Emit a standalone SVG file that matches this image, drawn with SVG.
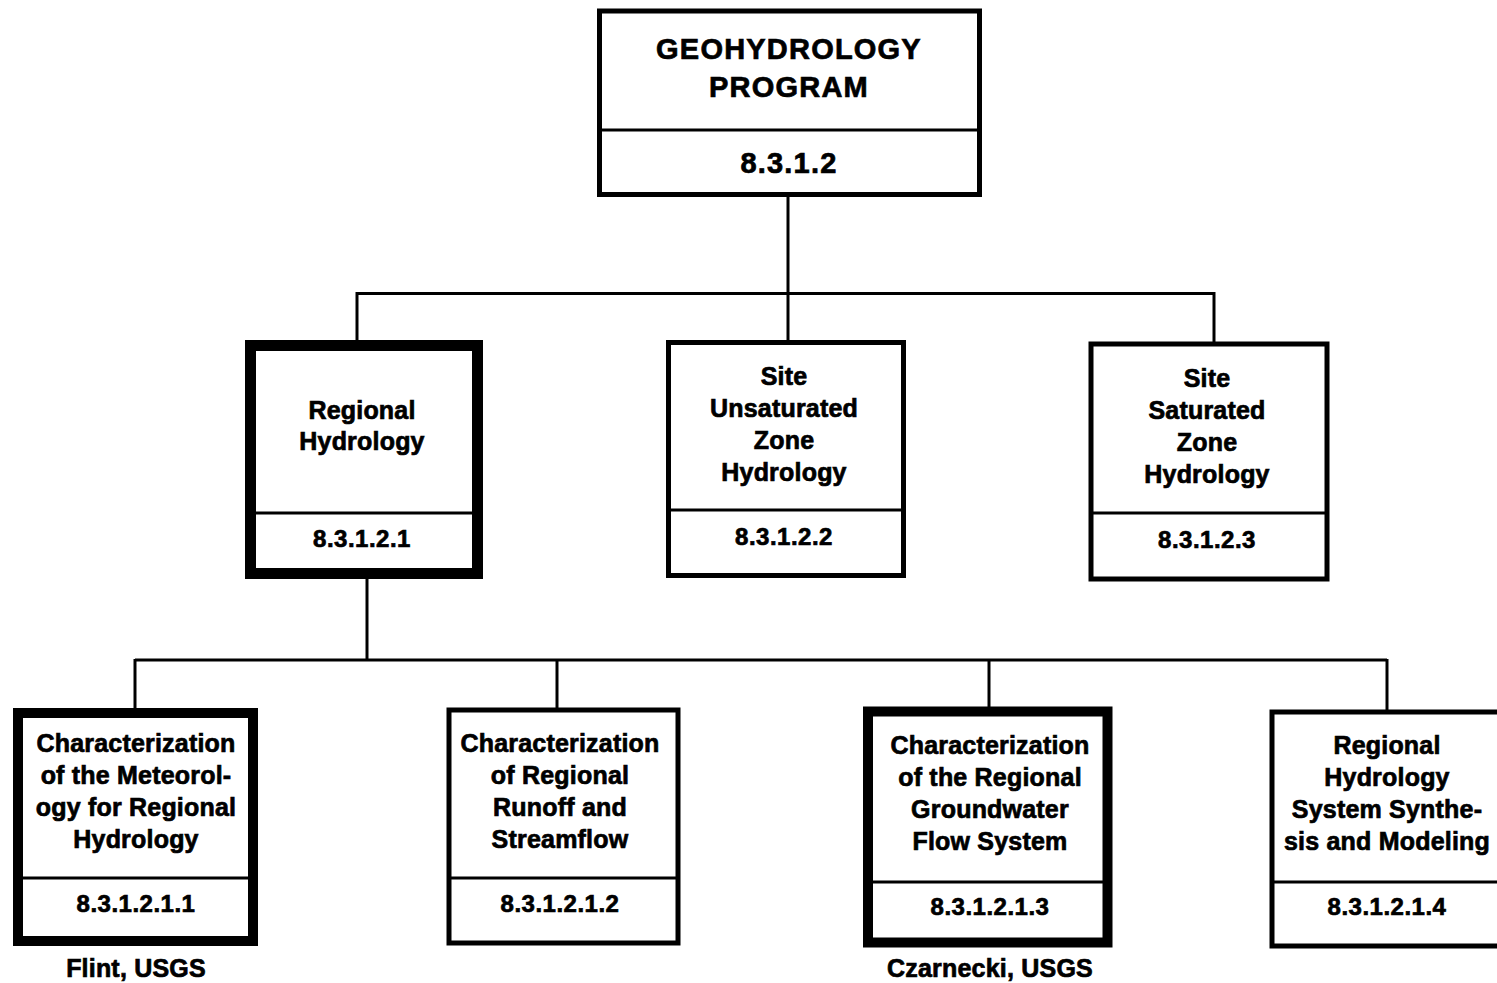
<svg xmlns="http://www.w3.org/2000/svg" width="1497" height="983" viewBox="0 0 1497 983">
<style>
.box{fill:#fff;stroke:#000;stroke-width:5}
.thick{fill:#fff;stroke:#000;stroke-width:11}
.div{stroke:#000;stroke-width:3}
.con{stroke:#000;stroke-width:3;fill:none}
text{font-family:"Liberation Sans",Arial,Helvetica,sans-serif;font-weight:bold;fill:#000;stroke:#000;stroke-width:0.7;text-anchor:middle}
.t{font-size:25px;letter-spacing:0.2px}
.c{font-size:24px;letter-spacing:0.5px}
.top{font-size:29px;letter-spacing:1.2px}
</style>
<rect width="1497" height="983" fill="#fff"/>
<g id="connectors">
<line class="con" x1="788" y1="195" x2="788" y2="341"/>
<line class="con" x1="357" y1="293.5" x2="1214" y2="293.5"/>
<line class="con" x1="357" y1="292" x2="357" y2="341"/>
<line class="con" x1="1214" y1="292" x2="1214" y2="343"/>
<line class="con" x1="367" y1="578" x2="367" y2="661"/>
<line class="con" x1="135" y1="660" x2="1387" y2="660"/>
<line class="con" x1="135" y1="659" x2="135" y2="709"/>
<line class="con" x1="557" y1="659" x2="557" y2="709"/>
<line class="con" x1="989" y1="659" x2="989" y2="707"/>
<line class="con" x1="1387" y1="659" x2="1387" y2="711"/>
</g>
<g id="n-program">
<rect class="box" x="599.5" y="11" width="380" height="183.5"/>
<line class="div" x1="599.5" y1="130" x2="979.5" y2="130"/>
<text class="top" x="789" y="59">GEOHYDROLOGY</text>
<text class="top" x="789" y="97">PROGRAM</text>
<text class="top" x="789" y="173">8.3.1.2</text>
</g>
<g id="n-regional">
<rect class="thick" x="250.5" y="345.5" width="227" height="228"/>
<line class="div" x1="250.5" y1="513" x2="477.5" y2="513"/>
<text class="t" x="362" y="419">Regional</text>
<text class="t" x="362" y="450">Hydrology</text>
<text class="c" x="362" y="547">8.3.1.2.1</text>
</g>
<g id="n-unsat">
<rect class="box" x="668.5" y="342.5" width="235" height="233"/>
<line class="div" x1="668.5" y1="510" x2="903.5" y2="510"/>
<text class="t" x="784" y="385">Site</text>
<text class="t" x="784" y="417">Unsaturated</text>
<text class="t" x="784" y="449">Zone</text>
<text class="t" x="784" y="481">Hydrology</text>
<text class="c" x="784" y="545">8.3.1.2.2</text>
</g>
<g id="n-sat">
<rect class="box" x="1091" y="344" width="236" height="235"/>
<line class="div" x1="1091" y1="513" x2="1327" y2="513"/>
<text class="t" x="1207" y="387">Site</text>
<text class="t" x="1207" y="419">Saturated</text>
<text class="t" x="1207" y="451">Zone</text>
<text class="t" x="1207" y="483">Hydrology</text>
<text class="c" x="1207" y="548">8.3.1.2.3</text>
</g>
<g id="n-meteo">
<rect class="thick" x="18" y="713" width="235" height="228" style="stroke-width:10"/>
<line class="div" x1="18" y1="878" x2="253" y2="878"/>
<text class="t" x="136" y="752">Characterization</text>
<text class="t" x="136" y="784">of the Meteorol-</text>
<text class="t" x="136" y="816">ogy for Regional</text>
<text class="t" x="136" y="848">Hydrology</text>
<text class="c" x="136" y="912">8.3.1.2.1.1</text>
<text class="t" x="136" y="977">Flint, USGS</text>
</g>
<g id="n-runoff">
<rect class="box" x="449" y="710" width="229" height="233"/>
<line class="div" x1="449" y1="878" x2="678" y2="878"/>
<text class="t" x="560" y="752">Characterization</text>
<text class="t" x="560" y="784">of Regional</text>
<text class="t" x="560" y="816">Runoff and</text>
<text class="t" x="560" y="848">Streamflow</text>
<text class="c" x="560" y="912">8.3.1.2.1.2</text>
</g>
<g id="n-groundwater">
<rect class="thick" x="868" y="711.5" width="239.5" height="231" style="stroke-width:10"/>
<line class="div" x1="868" y1="882" x2="1107.5" y2="882"/>
<text class="t" x="990" y="754">Characterization</text>
<text class="t" x="990" y="786">of the Regional</text>
<text class="t" x="990" y="818">Groundwater</text>
<text class="t" x="990" y="850">Flow System</text>
<text class="c" x="990" y="915">8.3.1.2.1.3</text>
<text class="t" x="990" y="977">Czarnecki, USGS</text>
</g>
<g id="n-synthesis">
<rect class="box" x="1272" y="712" width="240" height="234"/>
<line class="div" x1="1272" y1="882" x2="1510" y2="882"/>
<text class="t" x="1387" y="754">Regional</text>
<text class="t" x="1387" y="786">Hydrology</text>
<text class="t" x="1387" y="818">System Synthe-</text>
<text class="t" x="1387" y="850">sis and Modeling</text>
<text class="c" x="1387" y="915">8.3.1.2.1.4</text>
</g>
</svg>
